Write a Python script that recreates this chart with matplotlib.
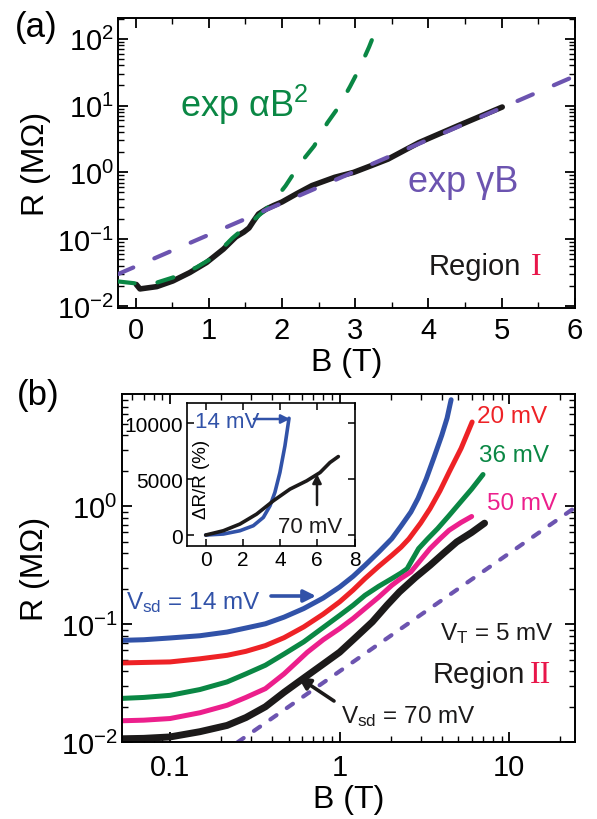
import matplotlib
matplotlib.use('Agg')
import matplotlib.pyplot as plt
from matplotlib.ticker import LogLocator, MultipleLocator, NullFormatter

plt.rcParams['font.family'] = ['Liberation Sans', 'DejaVu Sans']
plt.rcParams['mathtext.fontset'] = 'custom'
plt.rcParams['mathtext.rm'] = 'Liberation Sans'
plt.rcParams['mathtext.it'] = 'Liberation Sans:italic'
plt.rcParams['mathtext.bf'] = 'Liberation Sans:bold'

# ---------------- data: panel (a) ----------------
a_B = [0.01, 0.06, 0.29, 0.51, 0.74, 0.97, 1.2, 1.37, 1.48, 1.55, 1.61, 1.68, 1.79,
       1.89, 2.0, 2.2, 2.41, 2.72, 2.98, 3.22, 3.45, 3.87, 4.39, 5.01]
a_R = [0.021, 0.018, 0.0195, 0.0237, 0.0316, 0.0447, 0.071, 0.108, 0.128, 0.147, 0.185,
       0.238, 0.284, 0.32, 0.36, 0.478, 0.634, 0.843, 1.0, 1.26, 1.58, 2.78, 4.9, 9.5]
sq_B = [-0.24, 0.0, 0.29, 0.51, 0.83, 1.06, 1.32, 1.58, 1.84, 2.05, 2.26, 2.44, 2.62,
        2.78, 2.93, 3.06, 3.19, 3.30]
sq_R = [0.0233, 0.0218, 0.0224, 0.0267, 0.0377, 0.0532, 0.103, 0.18, 0.32, 0.63, 1.41,
        2.48, 5.5, 9.7, 19.2, 36, 75, 150]
lin_B = [-0.24, 6.0]
lin_R = [0.030, 27.5]

# ---------------- data: panel (b) ----------------
b_B14 = [0.05, 0.07, 0.1, 0.15, 0.217, 0.28, 0.365, 0.47, 0.614, 0.8, 1.0, 1.2, 1.41,
         1.7, 2.03, 2.3, 2.63, 2.9, 3.24, 3.6, 4.0, 4.3, 4.54]
b_R14 = [0.073, 0.074, 0.0766, 0.080, 0.086, 0.093, 0.101, 0.115, 0.136, 0.167, 0.207,
         0.255, 0.316, 0.41, 0.532, 0.68, 0.895, 1.17, 1.71, 2.6, 4.0, 5.6, 8.0]
b_B20 = [0.05, 0.07, 0.1, 0.15, 0.217, 0.28, 0.365, 0.47, 0.614, 0.8, 1.0, 1.2, 1.41,
         1.7, 2.03, 2.3, 2.56, 3.0, 3.41, 3.9, 4.42, 5.2, 6.04]
b_R20 = [0.047, 0.0475, 0.048, 0.051, 0.0546, 0.059, 0.066, 0.077, 0.095, 0.122, 0.155,
         0.195, 0.244, 0.31, 0.384, 0.45, 0.53, 0.72, 0.955, 1.35, 1.95, 3.1, 5.18]
b_B36 = [0.05, 0.07, 0.1, 0.15, 0.217, 0.28, 0.365, 0.47, 0.614, 0.8, 1.0, 1.2, 1.41,
         1.7, 2.03, 2.3, 2.5, 2.7, 2.92, 3.3, 3.78, 4.4, 5.17, 6.0, 7.0]
b_R36 = [0.0235, 0.024, 0.025, 0.028, 0.0325, 0.038, 0.045, 0.056, 0.071, 0.094, 0.119,
         0.145, 0.176, 0.21, 0.244, 0.272, 0.296, 0.36, 0.438, 0.53, 0.647, 0.83, 1.09,
         1.4, 1.86]
b_B50 = [0.05, 0.07, 0.1, 0.15, 0.217, 0.28, 0.365, 0.47, 0.56, 0.645, 0.8, 1.0, 1.2,
         1.41, 1.7, 2.03, 2.3, 2.63, 3.0, 3.41, 3.9, 4.42, 5.2, 6.0]
b_R50 = [0.0152, 0.0154, 0.0159, 0.0178, 0.0206, 0.024, 0.0285, 0.038, 0.048, 0.058,
         0.074, 0.092, 0.112, 0.136, 0.17, 0.214, 0.245, 0.278, 0.35, 0.438, 0.53, 0.627,
         0.73, 0.82]
b_B70 = [0.05, 0.07, 0.1, 0.15, 0.217, 0.28, 0.365, 0.47, 0.614, 0.8, 1.0, 1.25, 1.56,
         1.9, 2.25, 2.8, 3.41, 4.1, 4.9, 6.0, 7.15]
b_R70 = [0.0107, 0.0108, 0.0111, 0.0123, 0.0139, 0.0162, 0.020, 0.0265, 0.035, 0.046,
         0.058, 0.078, 0.105, 0.145, 0.188, 0.25, 0.316, 0.4, 0.499, 0.6, 0.72]
pow_B = [0.25, 24.5]
pow_R = [0.01, 0.98]

# ---------------- data: inset ----------------
i_B14 = [0.0, 0.95, 1.84, 2.56, 3.1, 3.46, 3.72, 3.99, 4.26, 4.48]
i_D14 = [0, 89, 384, 833, 1577, 2619, 3810, 5595, 7976, 10450]
i_B70 = [0.0, 0.95, 1.84, 2.74, 3.64, 4.53, 5.43, 6.15, 6.68, 7.13]
i_D70 = [0, 384, 982, 1875, 3066, 4107, 4851, 5595, 6488, 7024]

a_xticks = [0, 1, 2, 3, 4, 5, 6]
b_xticks = [0.1, 1, 10]
b_xticklabels = ['0.1', '1', '10']
i_xticks = [0, 2, 4, 6, 8]
i_yticks = [0, 5000, 10000]

# colours
C_BLK = '#1c1a1a'
C_GRN = '#0a8744'
C_PUR = '#6c54b0'
C_BLU = '#3152a8'
C_RED = '#ee2226'
C_PNK = '#ec1f8c'
C_ROM = '#e8164a'

W, H = 597, 820
fig = plt.figure(figsize=(W / 100, H / 100), dpi=100)


def fx(px):
    return px / W


def fy(py):
    return 1 - py / H


axa = fig.add_axes([fx(118), fy(309), fx(574.7) - fx(118), fy(19) - fy(309)])
axb = fig.add_axes([fx(121.7), fy(743.3), fx(575.3) - fx(121.7), fy(395) - fy(743.3)])
axi = fig.add_axes([fx(186.7), fy(546.7), fx(354.5) - fx(186.7), fy(404.3) - fy(546.7)])

# ---------------- panel (a) ----------------
axa.set_yscale('log')
axa.plot(a_B, a_R, color=C_BLK, lw=4.0, solid_capstyle='round', solid_joinstyle='round',
         zorder=2)
axa.plot(sq_B, sq_R, color=C_GRN, lw=3.0, dashes=(4, 5.5), dash_capstyle='round', zorder=3)
axa.plot(lin_B, lin_R, color=C_PUR, lw=3.0, dashes=(4, 5.5), dash_capstyle='round', zorder=3)
axa.set_xlim(-0.24, 6.0)
axa.set_ylim(10 ** -2.03, 10 ** 2.31)
axa.set_xticks(a_xticks)
axa.xaxis.set_minor_locator(MultipleLocator(0.5))
axa.yaxis.set_major_locator(LogLocator(base=10, numticks=10))
axa.yaxis.set_minor_locator(LogLocator(base=10, subs=range(2, 10), numticks=20))
axa.yaxis.set_minor_formatter(NullFormatter())
axa.set_xlabel('B (T)', fontsize=23, labelpad=2)
axa.set_ylabel('R (M\u03a9)', fontsize=23, labelpad=4)

# ---------------- panel (b) ----------------
axb.set_xscale('log')
axb.set_yscale('log')
for bx, by, col, lw in ((b_B14, b_R14, C_BLU, 3.6), (b_B20, b_R20, C_RED, 3.6),
                        (b_B36, b_R36, C_GRN, 3.6), (b_B50, b_R50, C_PNK, 3.6),
                        (b_B70, b_R70, C_BLK, 5.0)):
    axb.plot(bx, by, color=col, lw=lw, solid_capstyle='round', solid_joinstyle='round')
axb.plot(pow_B, pow_R, color=C_PUR, lw=3.0, dashes=(1.8, 3.0), dash_capstyle='round')
axb.set_xlim(0.0519, 24.5)
axb.set_ylim(0.01, 8.95)
axb.set_xticks(b_xticks)
axb.set_xticklabels(b_xticklabels)
axb.xaxis.set_minor_locator(LogLocator(base=10, subs=range(2, 10), numticks=20))
axb.xaxis.set_minor_formatter(NullFormatter())
axb.yaxis.set_major_locator(LogLocator(base=10, numticks=10))
axb.yaxis.set_minor_locator(LogLocator(base=10, subs=range(2, 10), numticks=20))
axb.yaxis.set_minor_formatter(NullFormatter())
axb.set_xlabel('B (T)', fontsize=23, labelpad=2)
axb.set_ylabel('R (M\u03a9)', fontsize=23, labelpad=8)

for ax, pad in ((axa, 6), (axb, 8)):
    for s in ax.spines.values():
        s.set_linewidth(1.4)
    ax.tick_params(which='both', direction='in', top=True, right=True, labelsize=21,
                   width=1.3)
    ax.tick_params(which='major', length=7)
    ax.tick_params(which='minor', length=4, width=1.0)
    ax.tick_params(axis='x', which='major', pad=pad)
    ax.tick_params(axis='y', which='major', pad=3)

# ---------------- inset ----------------
axi.plot(i_B14, i_D14, color=C_BLU, lw=2.6, solid_capstyle='round')
axi.plot(i_B70, i_D70, color=C_BLK, lw=2.6, solid_capstyle='round')
axi.set_xlim(-1.02, 8)
axi.set_ylim(-955, 11790)
axi.set_xticks(i_xticks)
axi.set_yticks(i_yticks)
for s in axi.spines.values():
    s.set_linewidth(1.2)
axi.tick_params(which='both', direction='in', top=True, right=True, labelsize=15,
                length=5, width=1.1, pad=3)
axi.text(0.09, 0.47, '\u0394R/R (%)', transform=axi.transAxes, rotation=90,
         fontsize=13.5, ha='center', va='center')
fig.text(fx(195), fy(428.3), '14 mV', color=C_BLU, fontsize=16, ha='left', va='baseline')
axi.annotate('', xy=(fx(290), fy(420)), xycoords='figure fraction',
             xytext=(fx(254), fy(420)), textcoords='figure fraction',
             arrowprops=dict(arrowstyle='-|>', color=C_BLU, lw=1.8, mutation_scale=13,
                             shrinkA=0, shrinkB=0))
fig.text(fx(278.3), fy(532.7), '70 mV', color=C_BLK, fontsize=16, ha='left', va='baseline')
axi.annotate('', xy=(fx(317), fy(475)), xycoords='figure fraction',
             xytext=(fx(317), fy(506)), textcoords='figure fraction',
             arrowprops=dict(arrowstyle='-|>', color=C_BLK, lw=1.8, mutation_scale=13,
                             shrinkA=0, shrinkB=0))

# ---------------- panel (a) annotations ----------------
fig.text(fx(180), fy(116.7), 'exp \u03b1B$^{2}$', color=C_GRN, fontsize=26,
         ha='left', va='baseline')
fig.text(fx(408), fy(191.7), 'exp \u03b3B', color=C_PUR, fontsize=26,
         ha='left', va='baseline')
fig.text(fx(429), fy(275), 'Region', color=C_BLK, fontsize=21, ha='left', va='baseline')
fig.text(fx(531), fy(275), 'I', color=C_ROM, fontsize=23, ha='left', va='baseline',
         family='Liberation Serif')
fig.text(fx(15), fy(27), '(a)', fontsize=25, ha='left', va='center')

# ---------------- panel (b) annotations ----------------
fig.text(fx(477), fy(423.3), '20 mV', color=C_RED, fontsize=17.5, ha='left', va='baseline')
fig.text(fx(479), fy(462.3), '36 mV', color=C_GRN, fontsize=17.5, ha='left', va='baseline')
fig.text(fx(487), fy(510), '50 mV', color=C_PNK, fontsize=17.5, ha='left', va='baseline')
fig.text(fx(126), fy(609), 'V$_{\\mathrm{sd}}$ = 14 mV', color=C_BLU, fontsize=17.5,
         ha='left', va='baseline')
axb.annotate('', xy=(fx(316), fy(597)), xycoords='figure fraction',
             xytext=(fx(271), fy(597)), textcoords='figure fraction',
             arrowprops=dict(arrowstyle='-|>', color=C_BLU, lw=2.6, mutation_scale=18,
                             shrinkA=0, shrinkB=0))
fig.text(fx(440), fy(640), 'V$_{\\mathrm{T}}$ = 5 mV', color=C_BLK, fontsize=17.5,
         ha='left', va='baseline')
fig.text(fx(433), fy(683), 'Region', color=C_BLK, fontsize=21, ha='left', va='baseline')
fig.text(fx(530), fy(683), 'II', color=C_ROM, fontsize=23, ha='left', va='baseline',
         family='Liberation Serif')
fig.text(fx(341), fy(723), 'V$_{\\mathrm{sd}}$ = 70 mV', color=C_BLK, fontsize=17.5,
         ha='left', va='baseline')
axb.annotate('', xy=(fx(298), fy(678)), xycoords='figure fraction',
             xytext=(fx(334), fy(702)), textcoords='figure fraction',
             arrowprops=dict(arrowstyle='-|>', color=C_BLK, lw=2.6, mutation_scale=18,
                             shrinkA=0, shrinkB=0))
fig.text(fx(17), fy(396), '(b)', fontsize=25, ha='left', va='center')

fig.savefig('out.png', dpi=100)
